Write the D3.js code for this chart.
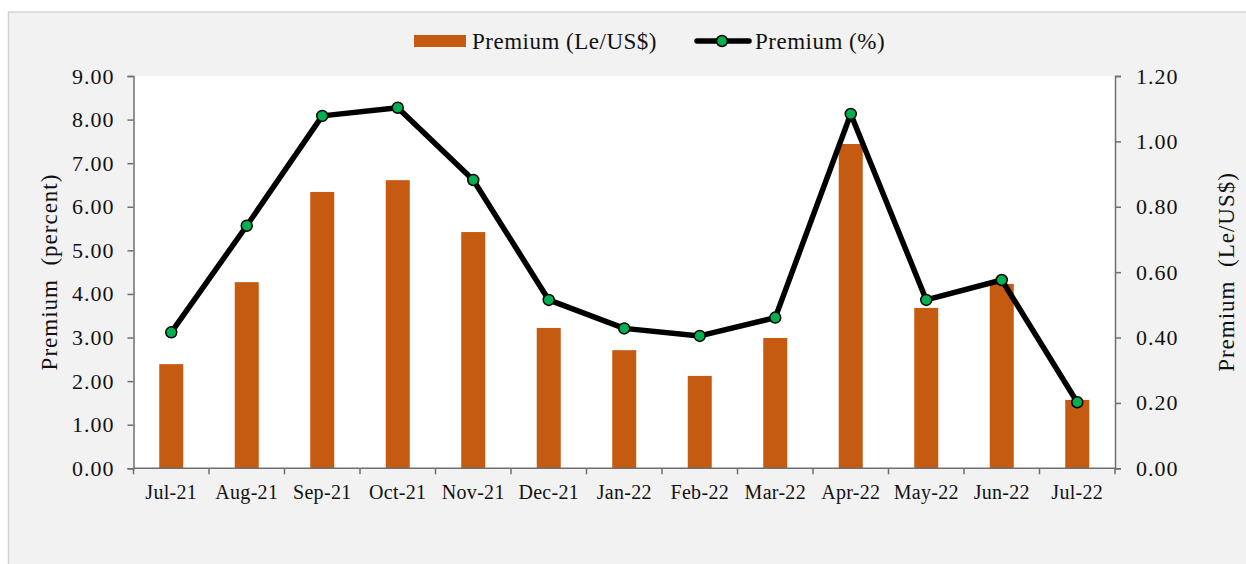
<!DOCTYPE html>
<html>
<head>
<meta charset="utf-8">
<script src="https://cdn.jsdelivr.net/npm/d3@7"></script>
<style>
    body { margin: 0; background: #ffffff; }
    svg { display: block; font-family: "Liberation Serif", "Times New Roman", serif; }
</style>
</head>
<body>
<svg width="1246" height="564"></svg>
<script>
var months = ["Jul-21", "Aug-21", "Sep-21", "Oct-21", "Nov-21", "Dec-21", "Jan-22",
    "Feb-22", "Mar-22", "Apr-22", "May-22", "Jun-22", "Jul-22"];

// bars, read on the left axis
var premiumLe = [2.39, 4.27, 6.34, 6.61, 5.42, 3.22, 2.71, 2.12, 2.99, 7.44, 3.68, 4.23, 1.57];

// line, read on the right axis
var premiumPct = [0.416, 0.742, 1.078, 1.103, 0.882, 0.515, 0.428, 0.405, 0.461, 1.084, 0.515, 0.576, 0.202];

var leftTicks = [0, 1, 2, 3, 4, 5, 6, 7, 8, 9];
var rightTicks = [0, 0.2, 0.4, 0.6, 0.8, 1.0, 1.2];

var svg = d3.select("svg");

// outer chart area
svg.append("rect")
    .attr("x", 8.5).attr("y", 12)
    .attr("width", 1246).attr("height", 560)
    .attr("fill", "#f2f2f2")
    .attr("stroke", "#d4d4d4")
    .attr("stroke-width", 1.5);

var plotLeft = 133.5, plotRight = 1115, plotTop = 76, plotBottom = 468.3;

svg.append("rect")
    .attr("x", plotLeft).attr("y", plotTop)
    .attr("width", plotRight - plotLeft).attr("height", plotBottom - plotTop)
    .attr("fill", "#ffffff");

var x = d3.scaleBand().domain(months).range([plotLeft, plotRight]).paddingInner(0).paddingOuter(0);
var yL = d3.scaleLinear().domain([0, 9]).range([plotBottom, plotTop]);
var yR = d3.scaleLinear().domain([0, 1.2]).range([plotBottom, plotTop]);

var barW = 24;
svg.append("g")
    .selectAll("rect")
    .data(premiumLe)
    .enter().append("rect")
    .attr("x", function (d, i) { return x(months[i]) + x.bandwidth() / 2 - barW / 2; })
    .attr("y", function (d) { return yL(d); })
    .attr("width", barW)
    .attr("height", function (d) { return plotBottom - yL(d); })
    .attr("fill", "#c55a11");

// axes
var axisColour = "#6f6f6f";

var leftAxis = svg.append("g")
    .attr("transform", "translate(" + plotLeft + ",0)")
    .call(d3.axisLeft(yL).tickValues(leftTicks).tickFormat(d3.format(".2f")).tickSize(6).tickPadding(13));

var rightAxis = svg.append("g")
    .attr("transform", "translate(" + plotRight + ",0)")
    .call(d3.axisRight(yR).tickValues(rightTicks).tickFormat(d3.format(".2f")).tickSize(6).tickPadding(15));

var xAxis = svg.append("g")
    .attr("transform", "translate(0," + plotBottom + ")")
    .call(d3.axisBottom(x).tickSize(0).tickPadding(17));

// category boundary ticks
svg.append("g")
    .selectAll("line")
    .data(months.concat(["end"]))
    .enter().append("line")
    .attr("x1", function (d, i) { return plotLeft + i * x.step(); })
    .attr("x2", function (d, i) { return plotLeft + i * x.step(); })
    .attr("y1", plotBottom)
    .attr("y2", plotBottom + 6)
    .attr("stroke", axisColour)
    .attr("stroke-width", 1.5);

[leftAxis, rightAxis, xAxis].forEach(function (g) {
    g.select(".domain").attr("stroke", axisColour).attr("stroke-width", 1.5);
    g.selectAll(".tick line").attr("stroke", axisColour).attr("stroke-width", 1.5);
    g.selectAll(".tick text")
        .attr("fill", "#111")
        .style("font-family", "Liberation Serif, Times New Roman, serif");
});
leftAxis.selectAll(".tick text").style("font-size", "22px").style("letter-spacing", "1px");
rightAxis.selectAll(".tick text").style("font-size", "22px").style("letter-spacing", "1px");
xAxis.selectAll(".tick text").style("font-size", "20px").style("letter-spacing", "0.3px");
xAxis.select(".domain").attr("d", "M" + plotLeft + ",0H" + plotRight);

// line
var line = d3.line()
    .x(function (d, i) { return x(months[i]) + x.bandwidth() / 2; })
    .y(function (d) { return yR(d); });

svg.append("path")
    .datum(premiumPct)
    .attr("d", line)
    .attr("fill", "none")
    .attr("stroke", "#000")
    .attr("stroke-width", 5.5)
    .attr("stroke-linejoin", "round");

svg.append("g")
    .selectAll("circle")
    .data(premiumPct)
    .enter().append("circle")
    .attr("cx", function (d, i) { return x(months[i]) + x.bandwidth() / 2; })
    .attr("cy", function (d) { return yR(d); })
    .attr("r", 5.5)
    .attr("fill", "#00b050")
    .attr("stroke", "#000")
    .attr("stroke-width", 1.5);

// axis titles
svg.append("text")
    .attr("transform", "translate(57,272) rotate(-90)")
    .attr("text-anchor", "middle")
    .style("font-size", "23px")
    .style("letter-spacing", "1px")
    .attr("fill", "#111")
    .attr("xml:space", "preserve")
    .text("Premium  (percent)");

svg.append("text")
    .attr("transform", "translate(1234,272) rotate(-90)")
    .attr("text-anchor", "middle")
    .style("font-size", "23px")
    .style("letter-spacing", "1px")
    .attr("fill", "#111")
    .attr("xml:space", "preserve")
    .text("Premium  (Le/US$)");

// legend
var legend = svg.append("g");
legend.append("rect")
    .attr("x", 414).attr("y", 35)
    .attr("width", 52).attr("height", 12)
    .attr("fill", "#c55a11");
legend.append("text")
    .attr("x", 472).attr("y", 49)
    .style("font-size", "23px")
    .style("letter-spacing", "0.5px")
    .attr("fill", "#111")
    .text("Premium (Le/US$)");

legend.append("line")
    .attr("x1", 697).attr("x2", 749)
    .attr("y1", 41).attr("y2", 41)
    .attr("stroke", "#000")
    .attr("stroke-width", 5.5)
    .attr("stroke-linecap", "round");
legend.append("circle")
    .attr("cx", 722).attr("cy", 41)
    .attr("r", 5.5)
    .attr("fill", "#00b050")
    .attr("stroke", "#000")
    .attr("stroke-width", 1.5);
legend.append("text")
    .attr("x", 755).attr("y", 49)
    .style("font-size", "23px")
    .style("letter-spacing", "0.5px")
    .attr("fill", "#111")
    .text("Premium (%)");
</script>
</body>
</html>
